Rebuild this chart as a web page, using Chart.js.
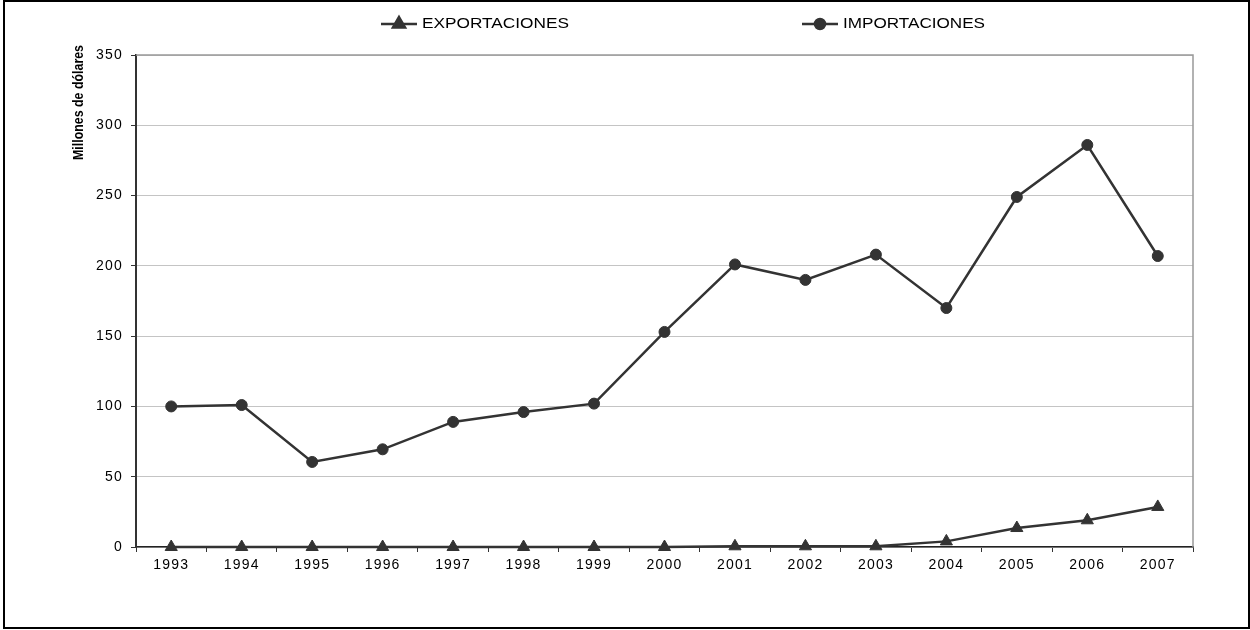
<!DOCTYPE html>
<html>
<head>
<meta charset="utf-8">
<script src="https://cdn.jsdelivr.net/npm/chart.js@4"></script>
<style>
  body { margin: 0; background: #fff; }
  canvas { display: block; }
</style>
</head>
<body>
<canvas id="chart" width="1250" height="630"></canvas>
<script>
// data
const years = ["1993", "1994", "1995", "1996", "1997", "1998", "1999", "2000", "2001", "2002", "2003", "2004", "2005", "2006", "2007"];
const exportaciones = [0, 0, 0, 0, 0, 0, 0, 0, 0.5, 0.5, 0.5, 4, 13.5, 19, 28.5];
const importaciones = [100, 101, 60.5, 69.5, 89, 96, 102, 153, 201, 190, 208, 170, 249, 286, 207];
const yTicks = [0, 50, 100, 150, 200, 250, 300, 350];
const yTitle = "Millones de dólares";

const lineColor = '#333333';

// legend, axis title and frame drawn by hand
const framePlugin = {
    id: 'frame',
    beforeDraw(chart) {
        chart.ctx.letterSpacing = '1.2px';
    },
    afterDraw(chart) {
        const ctx = chart.ctx;
        const area = chart.chartArea;
        ctx.save();
        ctx.letterSpacing = '0px';

        // grey box top and right of the plot
        ctx.strokeStyle = '#999999';
        ctx.lineWidth = 1.5;
        ctx.beginPath();
        ctx.moveTo(area.left, area.top);
        ctx.lineTo(area.right, area.top);
        ctx.lineTo(area.right, area.bottom);
        ctx.stroke();

        // outer frame
        ctx.strokeStyle = '#000';
        ctx.lineWidth = 2;
        ctx.strokeRect(4, 1, 1245, 627);

        // y title
        ctx.save();
        ctx.translate(79, 102.5);
        ctx.rotate(-Math.PI / 2);
        ctx.font = 'bold 14.5px "Liberation Sans", Arial, sans-serif';
        ctx.fillStyle = '#000';
        ctx.textAlign = 'center';
        ctx.textBaseline = 'middle';
        const w = ctx.measureText(yTitle).width;
        ctx.scale(115 / w, 1);
        ctx.fillText(yTitle, 0, 0);
        ctx.restore();

        // legend
        const items = [
            { ds: chart.data.datasets[0], x: 381, textWidth: 147 },
            { ds: chart.data.datasets[1], x: 802, textWidth: 142 }
        ];
        const y = 24;
        items.forEach(item => {
            ctx.strokeStyle = lineColor;
            ctx.lineWidth = 2.5;
            ctx.beginPath();
            ctx.moveTo(item.x, y);
            ctx.lineTo(item.x + 36, y);
            ctx.stroke();
            ctx.fillStyle = lineColor;
            Chart.helpers.drawPoint(ctx, {
                pointStyle: item.ds.pointStyle,
                radius: item.ds.pointStyle === 'triangle' ? 7 : 5,
                borderWidth: 1
            }, item.x + 18, y);
            ctx.save();
            ctx.font = '14px "Liberation Sans", Arial, sans-serif';
            ctx.fillStyle = '#000';
            ctx.textBaseline = 'middle';
            ctx.textAlign = 'left';
            const tw = ctx.measureText(item.ds.label).width;
            ctx.translate(item.x + 41, y);
            ctx.scale(item.textWidth / tw, 1);
            ctx.fillText(item.ds.label, 0, 0);
            ctx.restore();
        });
        ctx.restore();
    }
};

const chartData = {
    labels: years,
    datasets: [{
        label: 'EXPORTACIONES',
        data: exportaciones,
        borderColor: lineColor,
        backgroundColor: lineColor,
        borderWidth: 2.5,
        pointStyle: 'triangle',
        pointRadius: 7,
        pointBorderWidth: 1,
        tension: 0,
        clip: false
    }, {
        label: 'IMPORTACIONES',
        data: importaciones,
        borderColor: lineColor,
        backgroundColor: lineColor,
        borderWidth: 2.5,
        pointStyle: 'circle',
        pointRadius: 5.5,
        pointBorderWidth: 1,
        tension: 0,
        clip: false
    }]
};

const chartOptions = {
    responsive: false,
    animation: false,
    layout: {
        padding: { top: 55, right: 57, left: 0, bottom: 0 }
    },
    scales: {
        x: {
            offset: true,
            grid: {
                offset: true,
                drawOnChartArea: false,
                tickLength: 5,
                tickColor: '#333'
            },
            border: { color: '#222', width: 1.5 },
            ticks: {
                color: '#000',
                padding: 5,
                maxRotation: 0,
                font: { family: '"Liberation Sans", Arial, sans-serif', size: 14 }
            },
            afterFit(scale) { scale.height = 83; }
        },
        y: {
            min: 0,
            max: 350,
            afterBuildTicks(scale) {
                scale.ticks = yTicks.map(v => ({ value: v }));
            },
            grid: {
                color: '#c4c4c4',
                lineWidth: 1,
                tickLength: 5,
                tickColor: '#333'
            },
            border: { color: '#333', width: 2 },
            ticks: {
                color: '#000',
                padding: 8,
                font: { family: '"Liberation Sans", Arial, sans-serif', size: 14 }
            },
            afterFit(scale) { scale.width = 136; }
        }
    },
    plugins: {
        legend: { display: false },
        tooltip: { enabled: false }
    }
};

let chart = new Chart(document.getElementById('chart'), {
    type: 'line',
    data: chartData,
    options: chartOptions,
    plugins: [framePlugin]
});
</script>
</body>
</html>
